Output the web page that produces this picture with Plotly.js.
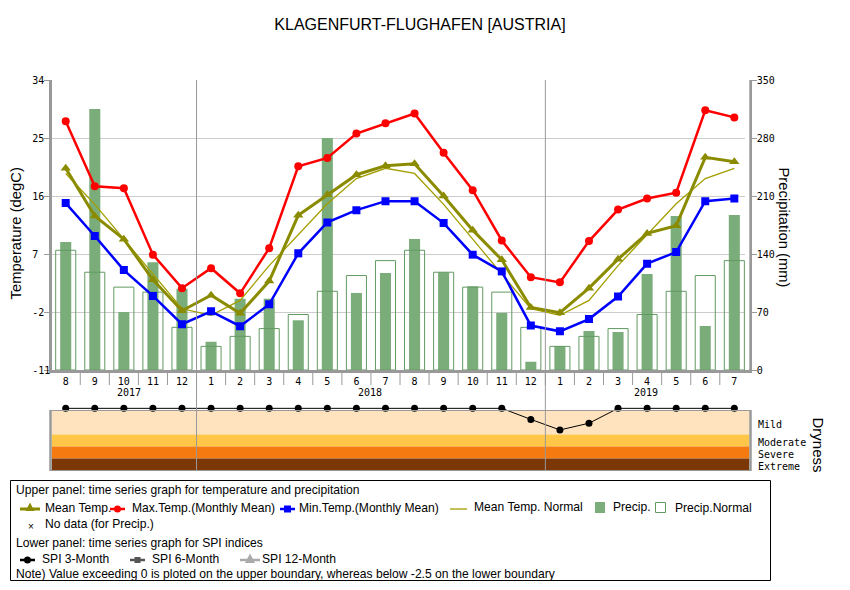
<!DOCTYPE html>
<html><head><meta charset="utf-8">
<script src="https://cdn.plot.ly/plotly-3.0.1.min.js"></script>
<style>html,body{margin:0;padding:0;background:#fff}#c{width:850px;height:590px}</style>
</head><body><div id="c"></div>
<script>
const monthLabels=[8,9,10,11,12,1,2,3,4,5,6,7,8,9,10,11,12,1,2,3,4,5,6,7];
const yearLabels=["2017","2018","2019"];
const yearPositions=[2.19,10.45,19.96];
const yearBreaks=[4.5,16.5];
const maxTemp=[27.6,17.5,17.2,6.9,1.7,4.8,0.9,7.9,20.6,21.9,25.7,27.3,28.8,22.7,16.9,9.1,3.4,2.6,9.0,13.9,15.6,16.5,29.3,28.2];
const meanTemp=[20.3,12.9,9.3,3.0,-1.8,0.6,-2.2,2.8,13.0,16.2,19.3,20.7,21.0,16.0,10.7,6.1,-1.3,-2.1,1.7,6.2,10.2,11.4,22.0,21.3];
const minTemp=[14.9,9.8,4.5,0.5,-3.9,-1.9,-4.2,-0.8,7.1,11.9,13.8,15.2,15.2,11.8,6.9,4.3,-4.1,-5.0,-3.1,0.4,5.5,7.3,15.2,15.6];
const normTemp=[19.5,14.7,9.3,3.9,-1.5,-2.5,-0.2,5.2,10.0,14.8,18.7,20.3,19.5,14.7,9.3,3.9,-1.5,-2.5,-0.2,5.2,10.0,14.8,18.7,20.3];
const precip=[154.5,315,70,130,98,34,86,86,60,280,93,117,158,118,101,69,10,29,47,46,116,186,53,187];
const precipNorm=[144.5,118,100,94,51.5,28.5,40.6,50,67,95,114,132,144.5,118,100,94,51.5,28.5,40.6,50,67,95,114,132];
const spi3=[0.09,0.09,0.09,0.09,0.09,0.09,0.09,0.09,0.09,0.09,0.09,0.09,0.09,0.09,0.09,0.09,-0.37,-0.81,-0.53,0.09,0.09,0.09,0.09,0.09];
const bandEdges=[0,-1,-1.5,-2,-2.5];
const bandColors=["#FEE3BE","#FFC648","#F57A10","#7B3806"];
const bandLabels=["Mild","Moderate","Severe","Extreme"];
const tempTicks=[-11,-2,7,16,25,34];
const tempTickText=["-11","-2\u00A0","7\u00A0\u00A0","16\u00A0","25\u00A0","34\u00A0"];
const precipTicks=[0,70,140,210,280,350];

const idx=monthLabels.map((_,i)=>i);
const px=v=>v/850, py=v=>1-v/590;
const MONO="'DejaVu Sans Mono',monospace", SANS="'Liberation Sans',Arial,sans-serif";
const GRN="#7BAD7B", GRNL="#629A62", OLV="#8B8B00", NRM="#A39E00", AX="#999999";

const traces=[
 {type:'bar',x:idx,y:precip,yaxis:'y',width:0.38,marker:{color:GRN,line:{width:0}},hoverinfo:'skip'},
 {type:'bar',x:idx,y:precipNorm,yaxis:'y',width:0.69,marker:{color:'rgba(0,0,0,0)',line:{color:GRNL,width:1}},hoverinfo:'skip'},
 {type:'scatter',mode:'lines',x:idx,y:normTemp,yaxis:'y2',line:{color:NRM,width:1.3}},
 {type:'scatter',mode:'lines+markers',x:idx,y:meanTemp,yaxis:'y2',line:{color:OLV,width:3},marker:{symbol:'triangle-up',size:9,color:OLV}},
 {type:'scatter',mode:'lines+markers',x:idx,y:maxTemp,yaxis:'y2',line:{color:'#FF0000',width:2.5},marker:{symbol:'circle',size:8,color:'#FF0000'}},
 {type:'scatter',mode:'lines+markers',x:idx,y:minTemp,yaxis:'y2',line:{color:'#0000FF',width:2.5},marker:{symbol:'square',size:8,color:'#0000FF'}},
 {type:'scatter',mode:'lines+markers',x:idx,y:spi3,xaxis:'x2',yaxis:'y3',line:{color:'#000000',width:1},marker:{symbol:'circle',size:7,color:'#000000'}}
];

const shapes=[], annotations=[];
bandColors.forEach((c,i)=>shapes.push({type:'rect',layer:'below',xref:'x2',yref:'y3',x0:-0.5,x1:23.6,y0:bandEdges[i],y1:bandEdges[i+1],fillcolor:c,line:{width:0}}));
yearBreaks.forEach(b=>shapes.push({type:'line',layer:'above',xref:'x',yref:'paper',x0:b,x1:b,y0:py(80),y1:py(470),line:{color:'#999999',width:1}}));
idx.slice(0,-1).forEach(i=>shapes.push({type:'line',xref:'x',yref:'paper',x0:i+0.5,x1:i+0.5,y0:py(370),y1:py(385),line:{color:AX,width:1}}));
shapes.push({type:'rect',xref:'paper',yref:'paper',layer:'above',x0:px(745),x1:px(749.3),y0:py(79),y1:py(369),fillcolor:'#fff',line:{width:0}});
shapes.push({type:'line',xref:'paper',yref:'paper',x0:px(50),x1:px(751),y0:py(410.5),y1:py(410.5),line:{color:AX,width:1}});
shapes.push({type:'line',xref:'paper',yref:'paper',x0:px(50),x1:px(751),y0:py(470.5),y1:py(470.5),line:{color:AX,width:1}});
shapes.push({type:'line',xref:'paper',yref:'paper',x0:px(50.5),x1:px(50.5),y0:py(410),y1:py(471),line:{color:AX,width:2.5}});
shapes.push({type:'line',xref:'paper',yref:'paper',x0:px(750.5),x1:px(750.5),y0:py(410),y1:py(471),line:{color:AX,width:2.5}});
shapes.push({type:'rect',xref:'paper',yref:'paper',x0:px(10.5),x1:px(770.5),y0:py(480.5),y1:py(580.5),line:{color:'#000',width:1},fillcolor:'rgba(0,0,0,0)'});

function txt(x,y,t,o={}){annotations.push(Object.assign({xref:'paper',yref:'paper',x:px(x),y:py(y),text:t,showarrow:false,xanchor:'left',yanchor:'middle',borderpad:0,font:{family:SANS,size:12.1,color:'#000'}},o));}
function swLine(x0,x1,y,c,w){shapes.push({type:'line',xref:'paper',yref:'paper',x0:px(x0),x1:px(x1),y0:py(y),y1:py(y),line:{color:c,width:w}});}
function swDot(cx,cy,r,c){shapes.push({type:'circle',xref:'paper',yref:'paper',x0:px(cx-r),x1:px(cx+r),y0:py(cy-r),y1:py(cy+r),fillcolor:c,line:{width:0}});}
function swSq(cx,cy,r,c){shapes.push({type:'rect',xref:'paper',yref:'paper',x0:px(cx-r),x1:px(cx+r),y0:py(cy-r),y1:py(cy+r),fillcolor:c,line:{width:0}});}
function swTri(cx,cy,r,c){shapes.push({type:'path',xref:'paper',yref:'paper',path:`M ${px(cx-r)} ${py(cy+r*0.8)} L ${px(cx+r)} ${py(cy+r*0.8)} L ${px(cx)} ${py(cy-r*1.1)} Z`,fillcolor:c,line:{width:0}});}

yearLabels.forEach((t,i)=>annotations.push({xref:'x',yref:'paper',x:yearPositions[i],y:py(392.5),text:t,showarrow:false,xanchor:'center',yanchor:'middle',borderpad:0,font:{family:MONO,size:10,color:'#000'}}));
[424,442,454,466].forEach((y,i)=>txt(756.5,y,bandLabels[i],{font:{family:MONO,size:10,color:'#000'}}));
txt(818,444.5,'Dryness',{xanchor:'center',textangle:90,font:{family:SANS,size:15,color:'#000'}});
txt(15.5,234,'Temperature (degC)',{xanchor:'center',textangle:-90,font:{family:SANS,size:14.8,color:'#000'}});
txt(784,227.5,'Precipitation (mm)',{xanchor:'center',textangle:90,font:{family:SANS,size:14.8,color:'#000'}});
txt(15,490,'Upper panel: time series graph for temperature and precipitation');
swLine(20,40,509,OLV,3);swTri(30,507.5,4.5,OLV);txt(43.5,507.5,'Mean Temp.');
swLine(110,125,509,'#FF0000',2.5);swDot(117.5,509,3.5,'#FF0000');txt(131,507.5,'Max.Temp.(Monthly Mean)');
swLine(280,295,509,'#0000FF',2.5);swSq(287.5,509,3.5,'#0000FF');txt(298,507.5,'Min.Temp.(Monthly Mean)');
swLine(450,467,509,NRM,1.3);txt(473,507,'Mean Temp. Normal');
shapes.push({type:'rect',xref:'paper',yref:'paper',x0:px(595),x1:px(605),y0:py(502),y1:py(513),fillcolor:GRN,line:{width:0}});txt(611.5,507,'Precip.');
shapes.push({type:'rect',xref:'paper',yref:'paper',x0:px(655.5),x1:px(665.5),y0:py(502.5),y1:py(512.5),fillcolor:'#fff',line:{color:GRNL,width:1}});txt(673.5,507.5,'Precip.Normal');
txt(27,526,'×',{font:{family:SANS,size:10,color:'#000'}});txt(43.5,523.5,'No data (for Precip.)');
txt(15,542.5,'Lower panel: time series graph for SPI indices');
swLine(20,35,560,'#000',2.5);swDot(27.5,560,3.5,'#000');txt(41,559,'SPI 3-Month');
swLine(130,145,560,'#555555',2.5);swSq(137.5,560,3,'#555555');txt(151,559,'SPI 6-Month');
swLine(240,260,560,'#AAAAAA',2.5);swTri(250,559,5,'#AAAAAA');txt(261,559,'SPI 12-Month');
txt(15,574,'Note) Value exceeding 0 is ploted on the upper boundary, whereas below -2.5 on the lower boundary');

const tickFont={family:MONO,size:10,color:'#000'};
const xr=[-0.482,23.515];
const layout={
 width:850,height:590,margin:{l:0,r:0,t:0,b:0,pad:0},paper_bgcolor:'#fff',plot_bgcolor:'#fff',
 showlegend:false,barmode:'overlay',hovermode:false,
 title:{text:'KLAGENFURT-FLUGHAFEN [AUSTRIA]',x:420/850,xanchor:'center',y:1-24/590,yanchor:'middle',font:{family:SANS,size:16,color:'#000'}},
 xaxis:{domain:[px(51.7),px(749.3)],range:xr,anchor:'y',tickmode:'array',tickvals:idx,ticktext:monthLabels,ticks:'',tickangle:0,tickfont:tickFont,showgrid:false,zeroline:false,showline:true,linecolor:AX,linewidth:2.5},
 yaxis:{domain:[py(370),py(80)],side:'right',range:[0,350],tickmode:'array',tickvals:precipTicks,ticks:'outside',ticklen:5,tickcolor:AX,ticklabelstandoff:-2,tickfont:tickFont,gridcolor:'#CCCCCC',gridwidth:1,zeroline:false,showline:true,linecolor:AX,linewidth:2.5},
 yaxis2:{overlaying:'y',side:'left',range:[-11,34],tickmode:'array',tickvals:tempTicks,ticktext:tempTickText,ticks:'outside',ticklen:5,tickcolor:AX,ticklabelstandoff:-8,tickfont:tickFont,showgrid:false,zeroline:false,showline:true,linecolor:AX,linewidth:2.5},
 xaxis2:{domain:[px(51.7),px(749.3)],range:xr,anchor:'y3',showticklabels:false,ticks:'',showgrid:false,zeroline:false},
 yaxis3:{domain:[py(470.5),py(403.3)],range:[-2.5,0.3],anchor:'x2',showticklabels:false,ticks:'',showgrid:false,zeroline:false},
 shapes,annotations
};
Plotly.newPlot('c',traces,layout,{displayModeBar:false,staticPlot:true});
</script></body></html>
